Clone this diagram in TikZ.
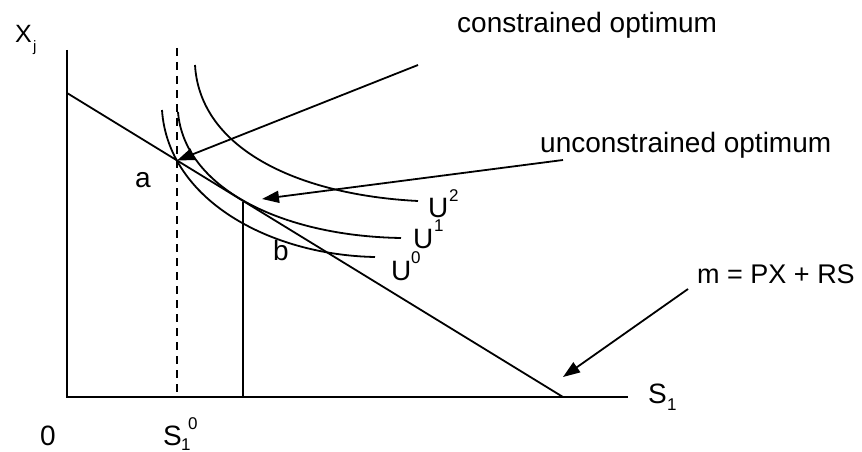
\documentclass[tikz,border=0pt]{standalone}
\usepackage{fontspec}
\setmainfont{Liberation Sans}
\usetikzlibrary{arrows.meta}
\begin{document}
\begin{tikzpicture}[x=1pt,y=-1pt,
  ln/.style={line width=1.8pt, black},
  dashline/.style={line width=1.6pt, dash pattern=on 8pt off 6pt},
  arr/.style={line width=1.8pt, -{Triangle[length=17pt,width=12pt]}},
  lab/.style={font=\fontsize{28}{30}\selectfont, inner sep=0pt, anchor=base west},
  small/.style={font=\fontsize{17}{18}\selectfont, inner sep=0pt, anchor=base west}]
\useasboundingbox (0,0) rectangle (862,452);
% axes
\coordinate (Ytop) at (67,50);
\coordinate (O) at (67,397);
\coordinate (Xend) at (628,397);
\draw[ln] (Ytop) -- (O) -- (Xend);
% budget line
\coordinate (B0) at (67,93);
\coordinate (B1) at (563,397);
\draw[ln] (B0) -- (B1);
% points
\coordinate (A) at (177,160.5);
\coordinate (Btop) at (243,201.5);
\coordinate (Bbot) at (243,397);
\coordinate (Dtop) at (177,48);
\coordinate (Dbot) at (177,397);
\draw[dashline] (Dtop) -- (Dbot);
\draw[ln] (Btop) -- (Bbot);
% indifference curves
\draw[ln] (195,65) .. controls (200,150) and (300,195) .. (418,201);
\draw[ln] (178,112) .. controls (184,187) and (280,236) .. (401,238);
\draw[ln] (162,110) .. controls (168,200) and (270,255) .. (375,257);
% labels
\node[lab, font=\fontsize{25}{27}\selectfont] (xj) at (15,43) {X};
\node[small, font=\fontsize{15}{16}\selectfont] (xjsub) at (33,52) {j};
\node[lab] (zero) at (40,445) {0};
\node[lab] (s10) at (163,445) {S};
\node[small] (s10sub) at (181,450) {1};
\node[small] (s10sup) at (188,429) {0};
\node[lab] (s1) at (648,403) {S};
\node[small] (s1sub) at (667,410) {1};
\node[lab] (la) at (135,187) {a};
\node[lab] (lb) at (273,260) {b};
\node[lab] (u2) at (428,217) {U};
\node[small] (u2s) at (449,201) {2};
\node[lab] (u1) at (413,248) {U};
\node[small] (u1s) at (434,231) {1};
\node[lab] (u0) at (391,280) {U};
\node[small] (u0s) at (411,263) {0};
\node[lab] (con) at (457,33) {constrained optimum};
\node[lab] (uncon) at (540,152) {unconstrained optimum};
\node[lab, font=\fontsize{27}{29}\selectfont] (budget) at (697,283) {m = PX + RS};
% arrows
\coordinate (c0) at (418,65);
\coordinate (u0start) at (563,160);
\coordinate (utip) at (262,199);
\coordinate (m0) at (688,289);
\coordinate (mtip) at (563,377);
\draw[arr] (c0) -- (A);
\draw[arr] (u0start) -- (utip);
\draw[arr] (m0) -- (mtip);
\end{tikzpicture}
\end{document}
